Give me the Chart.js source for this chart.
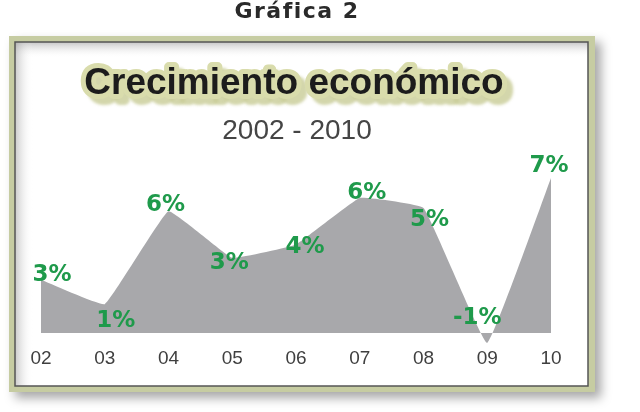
<!DOCTYPE html>
<html>
<head>
<meta charset="utf-8">
<script src="https://cdn.jsdelivr.net/npm/chart.js@4.4.1/dist/chart.umd.min.js"></script>
<style>
html,body{margin:0;padding:0;background:#fff;}
#wrap{width:640px;height:412px;position:relative;}
</style>
</head>
<body>
<div id="wrap"><canvas id="c"></canvas></div>
<script>
// ---- data ----
const years = ['02','03','04','05','06','07','08','09','10'];
const growth = [2.4, 1.3, 5.5, 3.4, 4.0, 6.1, 5.65, -0.45, 7.0];
const growthLabels = ['3%','1%','6%','3%','4%','6%','5%','-1%','7%'];
const heading = 'Gráfica 2';
const chartTitle = 'Crecimiento económico';
const chartSubtitle = '2002 - 2010';

// label offsets (style)
const labelDX = [11, 11, -3, -3, 9, 7, 6, -10, -2];
const labelDY = [-5, 17, -6, 5, 3, -5, 12, -25, -12];

const framePlugin = {
  id: 'frame',
  beforeDraw(chart) {
    const ctx = chart.ctx;
    ctx.save();
    // outer frame with drop shadow
    ctx.shadowColor = 'rgba(0,0,0,0.35)';
    ctx.shadowBlur = 10;
    ctx.shadowOffsetX = 6;
    ctx.shadowOffsetY = 6;
    ctx.fillStyle = '#c6cca2';
    ctx.fillRect(9, 36, 586, 356);
    ctx.shadowColor = 'transparent';
    // inner white
    ctx.fillStyle = '#ffffff';
    ctx.fillRect(15, 42, 573, 344);
    // inner shadow top & left
    let g = ctx.createLinearGradient(0, 42, 0, 58);
    g.addColorStop(0, 'rgba(150,150,150,0.55)');
    g.addColorStop(1, 'rgba(255,255,255,0)');
    ctx.fillStyle = g;
    ctx.fillRect(15, 42, 573, 16);
    g = ctx.createLinearGradient(15, 0, 33, 0);
    g.addColorStop(0, 'rgba(150,150,150,0.5)');
    g.addColorStop(1, 'rgba(255,255,255,0)');
    ctx.fillStyle = g;
    ctx.fillRect(15, 42, 18, 344);
    // dark inner border
    ctx.strokeStyle = '#555';
    ctx.lineWidth = 1.5;
    ctx.strokeRect(15, 42, 573, 344);

    // heading
    ctx.fillStyle = '#2a2a2a';
    ctx.font = 'bold 22px "DejaVu Sans"';
    ctx.textAlign = 'center';
    ctx.textBaseline = 'alphabetic';
    ctx.letterSpacing = '1.5px';
    ctx.fillText(heading, 297, 18);
    ctx.letterSpacing = '0px';

    // title with glow
    ctx.font = 'bold 37px "Liberation Sans", Arial, sans-serif';
    ctx.lineJoin = 'round';
    ctx.shadowColor = 'rgba(200,204,150,0.8)';
    ctx.shadowBlur = 3;
    ctx.strokeStyle = '#d9dcac';
    ctx.lineWidth = 10;
    ctx.strokeText(chartTitle, 294, 94);
    ctx.shadowColor = 'transparent';
    ctx.fillStyle = '#1c1c1c';
    ctx.fillText(chartTitle, 294, 94);

    // subtitle
    ctx.font = '28px "Liberation Sans", Arial, sans-serif';
    ctx.fillStyle = '#454545';
    ctx.fillText(chartSubtitle, 297, 139);
    ctx.restore();
  }
};

const labelPlugin = {
  id: 'valueLabels',
  afterDatasetsDraw(chart) {
    const ctx = chart.ctx;
    const meta = chart.getDatasetMeta(0);
    ctx.save();
    ctx.font = 'bold 23px "DejaVu Sans"';
    ctx.fillStyle = '#1f9a4b';
    ctx.textAlign = 'center';
    ctx.textBaseline = 'middle';
    meta.data.forEach((pt, i) => {
      ctx.fillText(growthLabels[i], pt.x + labelDX[i], pt.y + labelDY[i]);
    });
    ctx.restore();
  }
};

new Chart(document.getElementById('c'), {
  type: 'line',
  data: {
    labels: years,
    datasets: [{
      data: growth,
      fill: 'origin',
      backgroundColor: '#a8a8ab',
      borderWidth: 0,
      borderColor: 'rgba(0,0,0,0)',
      pointRadius: 0,
      tension: 0.08
    }]
  },
  options: {
    responsive: true,
    maintainAspectRatio: false,
    animation: false,
    layout: { padding: { left: 41, right: 89, top: 167, bottom: 40 } },
    plugins: { legend: { display: false }, tooltip: { enabled: false }, title: { display: false } },
    scales: {
      x: {
        offset: false,
        grid: { display: false, drawTicks: false },
        border: { display: false },
        ticks: { color: '#3f3f3f', font: { size: 19, family: '"Liberation Sans", Arial, sans-serif' }, padding: 3, maxRotation: 0 },
        afterFit(scale) { scale.height = 28; }
      },
      y: {
        display: false,
        min: -0.5,
        max: 7.5
      }
    }
  },
  plugins: [framePlugin, labelPlugin]
});
</script>
</body>
</html>
